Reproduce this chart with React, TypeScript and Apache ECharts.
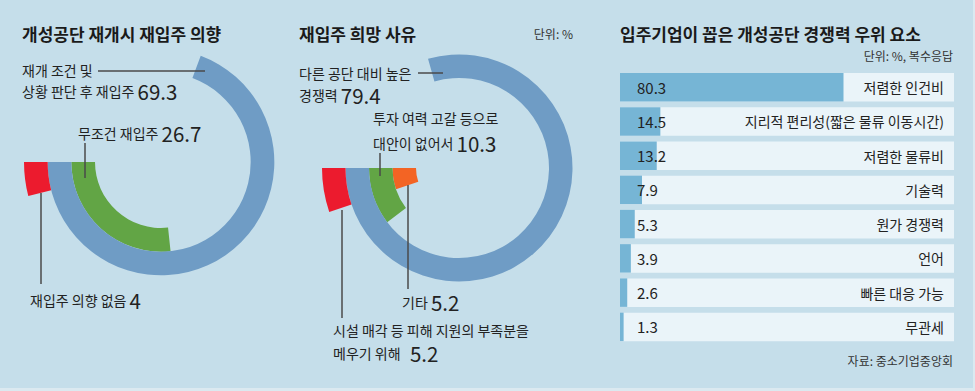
import React, { useEffect, useRef } from "react";
import * as echarts from "echarts";

// ---- data ----
const leftTitle = "개성공단 재개시 재입주 의향";
const leftNames = ["무조건 재입주", "재개 조건 및\n상황 판단 후 재입주", "재입주 의향 없음"];
const leftValues = [26.7, 69.3, 4];
const leftColors = ["#62a545", "#6f9cc5", "#ec1b2e"];

const midTitle = "재입주 희망 사유";
const midNames = [
  "기타",
  "투자 여력 고갈 등으로\n대안이 없어서",
  "다른 공단 대비 높은\n경쟁력",
  "시설 매각 등 피해 지원의 부족분을\n메우기 위해  ",
];
const midValues = [5.2, 10.3, 79.4, 5.2];
const midColors = ["#f36424", "#62a545", "#6f9cc5", "#ec1b2e"];

const barTitle = "입주기업이 꼽은 개성공단 경쟁력 우위 요소";
const barNames = [
  "저렴한 인건비",
  "지리적 편리성(짧은 물류 이동시간)",
  "저렴한 물류비",
  "기술력",
  "원가 경쟁력",
  "언어",
  "빠른 대응 가능",
  "무관세",
];
const barValues = [80.3, 14.5, 13.2, 7.9, 5.3, 3.9, 2.6, 1.3];

const unitMid = "단위: %";
const unitBar = "단위: %, 복수응답";
const source = "자료: 중소기업중앙회";

const F = "'Noto Sans CJK KR', 'Noto Sans', sans-serif";
const TXT = "#222222";
const LEAD = "#4a4a4a";

function labelEls(x: number, yc: number, name: string, value: number, lineH: number) {
  const lines = name.split("\n");
  return lines.map((ln, i) => {
    const last = i === lines.length - 1;
    return {
      type: "text",
      x,
      y: yc + i * lineH,
      z: 100,
      style: {
        text: last ? `{n|${ln} }{v|${value}}` : `{n|${ln}}`,
        rich: {
          n: { fontSize: 14, lineHeight: 18, fontFamily: F, fill: TXT, color: TXT },
          v: { fontSize: 20.5, lineHeight: 18, fontFamily: F, fill: TXT, color: TXT },
        },
        fill: TXT,
        align: "left",
        verticalAlign: "middle",
      },
    };
  });
}

function lead(x1: number, y1: number, x2: number, y2: number) {
  return {
    type: "line",
    z: 100,
    shape: { x1, y1, x2, y2 },
    style: { stroke: LEAD, lineWidth: 1.5 },
  };
}

function txt(x: number, y: number, text: string, size: number, align: string, bold = false) {
  return {
    type: "text",
    x,
    y,
    z: 100,
    style: {
      text,
      fontSize: size,
      fontFamily: F,
      fontWeight: bold ? "bold" : "normal",
      fill: bold ? "#1a1a1a" : "#333333",
      align,
      verticalAlign: "middle",
    },
  };
}

export default function App() {
  const ref = useRef<HTMLDivElement>(null);
  useEffect(() => {
    if (!ref.current) return;
    const chart = echarts.init(ref.current, undefined, { renderer: "svg" });
    const option: any = {
      animation: false,
      backgroundColor: "#c5deea",
      polar: [
        { center: [161, 162], radius: [66, 137] },
        { center: [459, 168], radius: [43, 137] },
      ],
      angleAxis: [
        { polarIndex: 0, type: "value", min: 0, max: 100, startAngle: 180, clockwise: false, show: false },
        { polarIndex: 1, type: "value", min: 0, max: 100, startAngle: 180, clockwise: false, show: false },
      ],
      radiusAxis: [
        { polarIndex: 0, type: "category", data: leftNames, show: false },
        { polarIndex: 1, type: "category", data: midNames, show: false },
      ],
      grid: { left: 620, top: 70, width: 334, height: 274 },
      xAxis: { type: "value", min: 0, max: 120, show: false },
      yAxis: {
        type: "category",
        data: barNames,
        inverse: true,
        position: "right",
        z: 10,
        axisLine: { show: false },
        axisTick: { show: false },
        splitLine: { show: false },
        axisLabel: { inside: true, margin: 10, fontSize: 14, color: TXT, fontFamily: F },
      },
      series: [
        {
          type: "bar",
          coordinateSystem: "polar",
          polarIndex: 0,
          barCategoryGap: "0%",
          data: leftValues.map((v, i) => ({ value: v, itemStyle: { color: leftColors[i] } })),
        },
        {
          type: "bar",
          coordinateSystem: "polar",
          polarIndex: 1,
          barCategoryGap: "0%",
          data: midValues.map((v, i) => ({ value: v, itemStyle: { color: midColors[i] } })),
        },
        {
          type: "bar",
          data: barValues,
          barWidth: 28.5,
          itemStyle: { color: "#76b5d5" },
          showBackground: true,
          backgroundStyle: { color: "#eaf4f9" },
          label: {
            show: true,
            position: "insideLeft",
            distance: 17,
            fontSize: 15,
            color: TXT,
            fontFamily: F,
          },
        },
      ],
      graphic: [
        { type: "rect", shape: { x: 973, y: 0, width: 2, height: 391 }, style: { fill: "#dbe9f0" } },
        { type: "rect", shape: { x: 0, y: 388, width: 975, height: 3 }, style: { fill: "#dbe9f0" } },
        txt(22, 33, leftTitle, 17, "left", true),
        txt(299, 33, midTitle, 17, "left", true),
        txt(620, 33, barTitle, 17, "left", true),
        txt(573, 33, unitMid, 12, "right"),
        txt(953, 55, unitBar, 12, "right"),
        txt(953, 360, source, 12, "right"),
        ...labelEls(22, 70, leftNames[1], leftValues[1], 21),
        ...labelEls(78, 133, leftNames[0], leftValues[0], 21),
        ...labelEls(30, 300, leftNames[2], leftValues[2], 21),
        lead(98, 71, 205, 71),
        lead(85, 143, 85, 178),
        lead(41, 193, 41, 284),
        ...labelEls(299, 73, midNames[2], midValues[2], 22),
        ...labelEls(373, 118, midNames[1], midValues[1], 25),
        ...labelEls(402, 302, midNames[0], midValues[0], 22),
        ...labelEls(333, 330, midNames[3], midValues[3], 23),
        lead(418, 73, 443, 73),
        lead(380, 153, 380, 176),
        lead(408, 185, 408, 289),
        lead(342, 210, 342, 318),
      ],
    };
    chart.setOption(option);
    return () => chart.dispose();
  }, []);
  return (
    <div
      ref={ref}
      style={{ position: "fixed", left: 0, top: 0, width: 975, height: 391 }}
    />
  );
}
